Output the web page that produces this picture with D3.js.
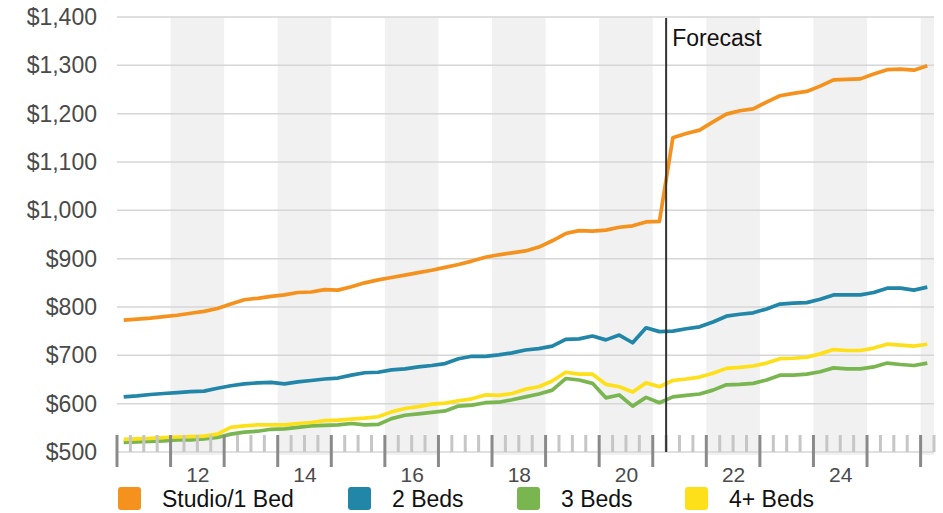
<!DOCTYPE html>
<html>
<head>
<meta charset="utf-8">
<script src="https://cdn.jsdelivr.net/npm/d3@7"></script>
<style>
  html, body { margin: 0; padding: 0; background: #fff; }
  svg { display: block; font-family: "Liberation Sans", Arial, Helvetica, sans-serif; }
</style>
</head>
<body>
<script>
// ---------- DATA ----------
const startYear = 2011;
const seriesNames = ["Studio/1 Bed", "2 Beds", "3 Beds", "4+ Beds"];
// quarterly values, 2011 Q1 .. 2026 Q1
const studio = [773,775,777,780,783,787,791,797,806,815,818,822,825,830,831,836,835,842,850,856,861,
  866,871,876,882,888,895,903,908,912,916,924,937,952,958,957,959,965,968,976,977,
  1150,1159,1166,1183,1199,1206,1210,1224,1237,1242,1246,1257,1270,1271,1272,1282,1291,1292,1290,1299];
const beds2 = [614,616,619,621,623,625,626,632,637,641,643,644,641,645,648,651,653,659,664,665,670,
  672,676,679,683,693,698,698,701,705,711,714,719,733,734,740,732,742,726,757,749,750,755,759,
  769,781,785,788,796,806,808,809,816,825,825,825,830,839,839,835,841];
const beds3 = [520,521,522,523,525,525,527,530,537,541,543,547,548,551,554,555,556,559,556,557,569,
  576,579,582,585,595,597,602,603,608,614,620,628,652,649,642,612,618,595,613,602,614,617,620,
  628,639,640,642,649,659,659,661,666,674,672,672,676,684,681,679,684];
const beds4 = [526,527,528,530,531,532,533,537,551,554,556,556,556,559,561,565,566,568,570,573,583,
  590,594,599,601,606,610,618,617,621,630,635,647,665,661,661,640,635,624,643,635,648,651,655,
  663,673,675,678,684,693,694,696,703,712,710,710,715,723,721,719,723];
const seriesColors = ["#F5921E", "#2186A8", "#7AB650", "#FDE01A"];
const yTicks = [500,600,700,800,900,1000,1100,1200,1300,1400];
const xLabelYears = [2012,2014,2016,2018,2020,2022,2024];
const shadedYears = [2012,2014,2016,2018,2020,2022,2024,2026];
const forecastStart = 2021.25;
const forecastLabel = "Forecast";

// ---------- LAYOUT ----------
const W = 943, H = 513;
const pLeft = 117, pRight = 934, pTop = 17, pBottom = 452;

const svg = d3.select("body").append("svg").attr("width", W).attr("height", H);

const x = d3.scaleLinear().domain([2011, 2026.25]).range([pLeft, pRight]);
const y = d3.scaleLinear().domain([500, 1400]).range([pBottom, pTop]);

const allSeries = [studio, beds2, beds3, beds4];
const quarterTime = i => startYear + i / 4 + 0.125;

// shaded year bands
svg.append("g").selectAll("rect").data(shadedYears).join("rect")
  .attr("x", d => x(d))
  .attr("y", pTop)
  .attr("width", d => Math.min(x(d + 1), pRight) - x(d))
  .attr("height", pBottom - pTop + 3)
  .attr("fill", "#f1f1f1");

// horizontal gridlines
svg.append("g").selectAll("line").data(yTicks).join("line")
  .attr("x1", pLeft).attr("x2", pRight)
  .attr("y1", d => y(d)).attr("y2", d => y(d))
  .attr("stroke", "#d6d6d6").attr("stroke-width", 1.5);

// y axis labels
const yAxis = d3.axisLeft(y).tickValues(yTicks)
  .tickFormat(d => "$" + d3.format(",")(d)).tickSize(0).tickPadding(20);
const gy = svg.append("g").attr("transform", `translate(${pLeft},0)`).call(yAxis);
gy.select(".domain").remove();
gy.selectAll("text").attr("font-size", 23).attr("fill", "#4a4a4a")
  .attr("font-family", "Liberation Sans, Arial, sans-serif");

// lines
const line = d3.line().x((d, i) => x(quarterTime(i))).y(d => y(d));
svg.append("g").selectAll("path").data(allSeries).join("path")
  .attr("d", d => line(d))
  .attr("fill", "none")
  .attr("stroke", (d, i) => seriesColors[i])
  .attr("stroke-width", 3.7)
  .attr("stroke-linejoin", "round");

// quarter ticks (drawn above lines)
const quarterTicks = d3.range(0, 62).map(k => startYear + k / 4);
svg.append("g").selectAll("line").data(quarterTicks).join("line")
  .attr("x1", d => x(d)).attr("x2", d => x(d))
  .attr("y1", pBottom - 17)
  .attr("y2", (d, k) => k % 4 === 0 ? pBottom + 15 : pBottom)
  .attr("stroke", (d, k) => k % 4 === 0 ? "#8a8a8a" : "#c6c6c6")
  .attr("stroke-width", 3);

// x labels
const xAxis = d3.axisBottom(x).tickValues(xLabelYears.map(v => v + 0.5))
  .tickFormat(d => String(Math.floor(d)).slice(2)).tickSize(0).tickPadding(0);
const gx = svg.append("g").attr("transform", `translate(0,${pBottom})`).call(xAxis);
gx.select(".domain").remove();
gx.selectAll("text").attr("font-size", 21).attr("fill", "#4a4a4a")
  .attr("dy", null).attr("y", 29.5)
  .attr("font-family", "Liberation Sans, Arial, sans-serif");

// forecast line
svg.append("line")
  .attr("x1", x(forecastStart)).attr("x2", x(forecastStart))
  .attr("y1", pTop + 1).attr("y2", pBottom)
  .attr("stroke", "#333").attr("stroke-width", 2);
svg.append("text")
  .attr("x", x(forecastStart) + 6).attr("y", 46)
  .attr("font-size", 23).attr("fill", "#111")
  .text(forecastLabel);

// legend
const legendX = [118, 348, 517, 685];
const lg = svg.append("g").selectAll("g").data(seriesNames).join("g")
  .attr("transform", (d, i) => `translate(${legendX[i]},487)`);
lg.append("rect").attr("width", 23).attr("height", 23).attr("rx", 3)
  .attr("fill", (d, i) => seriesColors[i]);
lg.append("text").attr("x", 44).attr("y", 20)
  .attr("font-size", 23).attr("fill", "#111").text(d => d);
</script>
</body>
</html>
